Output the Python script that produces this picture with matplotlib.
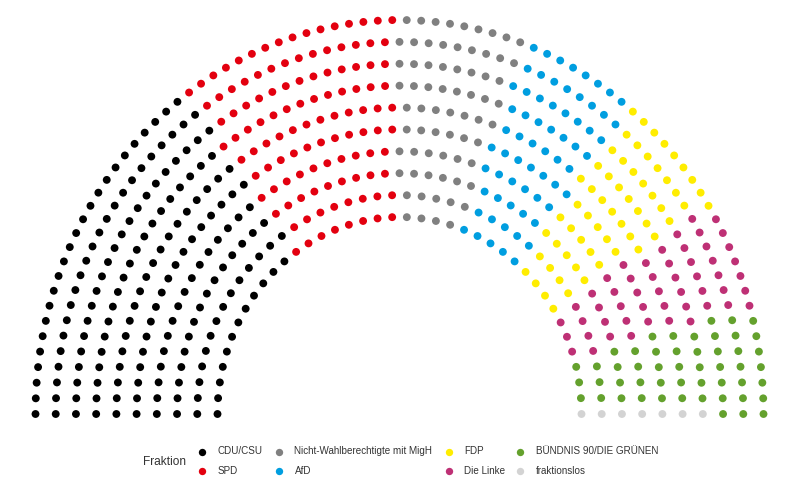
import numpy as np
import matplotlib
matplotlib.use("Agg")
import matplotlib.pyplot as plt

plt.rcParams['font.family'] = ['Liberation Sans', 'DejaVu Sans']

# ---- data ----
parties = ["CDU/CSU", "SPD", "Nicht-Wahlberechtigte mit MigH", "AfD", "FDP",
           "Die Linke", "BÜNDNIS 90/DIE GRÜNEN", "fraktionslos"]
seats = [183, 114, 68, 65, 60, 52, 50, 7]
colors = ["#000000", "#E3000F", "#808080", "#009EE0", "#FFED00",
          "#BE3075", "#64A12D", "#D3D3D3"]
legend_title = "Fraktion"
n_rows = 10


def parliament_layout(total, rows):
    """Semicircle layout as in ggparliament."""
    radii = np.linspace(1.0, 2.0, rows)
    remaining = total
    xs, ys, rr, th = [], [], [], []
    for i in range(rows):
        cnt = int(round(remaining * radii[i] / radii[i:].sum()))
        theta = np.linspace(0.0, np.pi, cnt)
        remaining -= cnt
        xs.append(radii[i] * np.cos(theta))
        ys.append(radii[i] * np.sin(theta))
        rr.append(np.full(cnt, i + 1))
        th.append(theta)
    xs, ys, rr, th = map(np.concatenate, (xs, ys, rr, th))
    order = np.lexsort((-rr, -np.round(th, 9)))
    return xs[order], ys[order]


x, y = parliament_layout(sum(seats), n_rows)
seat_colors = np.repeat(colors, seats)

fig = plt.figure(figsize=(8, 4.8), dpi=100)
ax = fig.add_axes([0, 0, 1, 1])
ax.set_xlim(-399.5 / 182, 400.5 / 182)
ax.set_ylim(-66 / 197, 414 / 197)
ax.axis("off")
ax.scatter(x, y, s=32, c=seat_colors, linewidths=0)

# ---- legend (two rows, filled column by column) ----
lg = fig.add_axes([0, 0, 1, 1], facecolor="none")
lg.set_xlim(0, 800)
lg.set_ylim(480, 0)
lg.axis("off")
col_x = [201.5, 278.5, 448.5, 520]
row_y = [451.5, 471]
for i, (name, col) in enumerate(zip(parties, colors)):
    cx = col_x[i // 2]
    cy = row_y[i % 2]
    lg.scatter([cx], [cy], s=28, color=col, linewidths=0)
    lg.text(cx + 16, cy, name, ha="left", va="center", fontsize=7.1,
            color="#333333")
lg.text(142.5, 462, legend_title, ha="left", va="center", fontsize=8.6,
        color="#333333")

fig.savefig("out.png", dpi=100)
